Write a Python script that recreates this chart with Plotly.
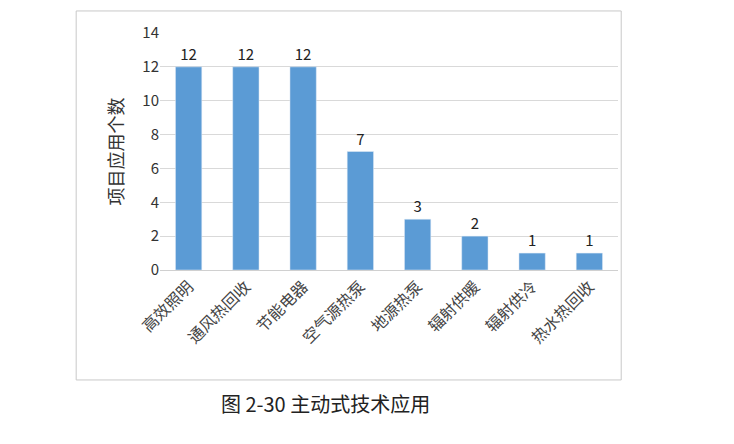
import plotly.graph_objects as go

categories = ["高效照明", "通风热回收", "节能电器", "空气源热泵", "地源热泵", "辐射供暖", "辐射供冷", "热水热回收"]
values = [12, 12, 12, 7, 3, 2, 1, 1]
y_ticks = [0, 2, 4, 6, 8, 10, 12, 14]

font = "Noto Sans CJK SC"
fig = go.Figure(go.Bar(
    x=categories, y=values, text=[str(v) for v in values], textposition="outside",
    marker_color="#5B9BD5", width=0.46, textfont=dict(size=15, color="#222", family=font),
    cliponaxis=False,
))
fig.update_layout(
    width=734, height=444, margin=dict(l=152, r=124, t=25, b=182),
    paper_bgcolor="white", plot_bgcolor="white", showlegend=False,
    font=dict(family=font, color="#333"),
    xaxis=dict(tickangle=-45, tickfont=dict(size=16, color="#444"), showline=True,
               linecolor="#d0d0d0", ticks="", automargin=False),
    yaxis=dict(range=[0, 14], tickvals=y_ticks, tickfont=dict(size=15, color="#333"),
               gridcolor="#d9d9d9", zeroline=False, ticks="", automargin=False,
               title=dict(text="项目应用个数", font=dict(size=18, color="#333"), standoff=14)),
    shapes=[dict(type="rect", xref="paper", yref="paper", x0=-0.183, x1=1.007,
                 y0=-0.464, y1=1.093, line=dict(color="#c8c8c8", width=1))],
    annotations=[dict(text="图 2-30 主动式技术应用", xref="paper", yref="paper",
                      x=0.362, y=-0.633, showarrow=False,
                      font=dict(size=20, color="#222", family=font))],
)
fig.write_html("out.html")
